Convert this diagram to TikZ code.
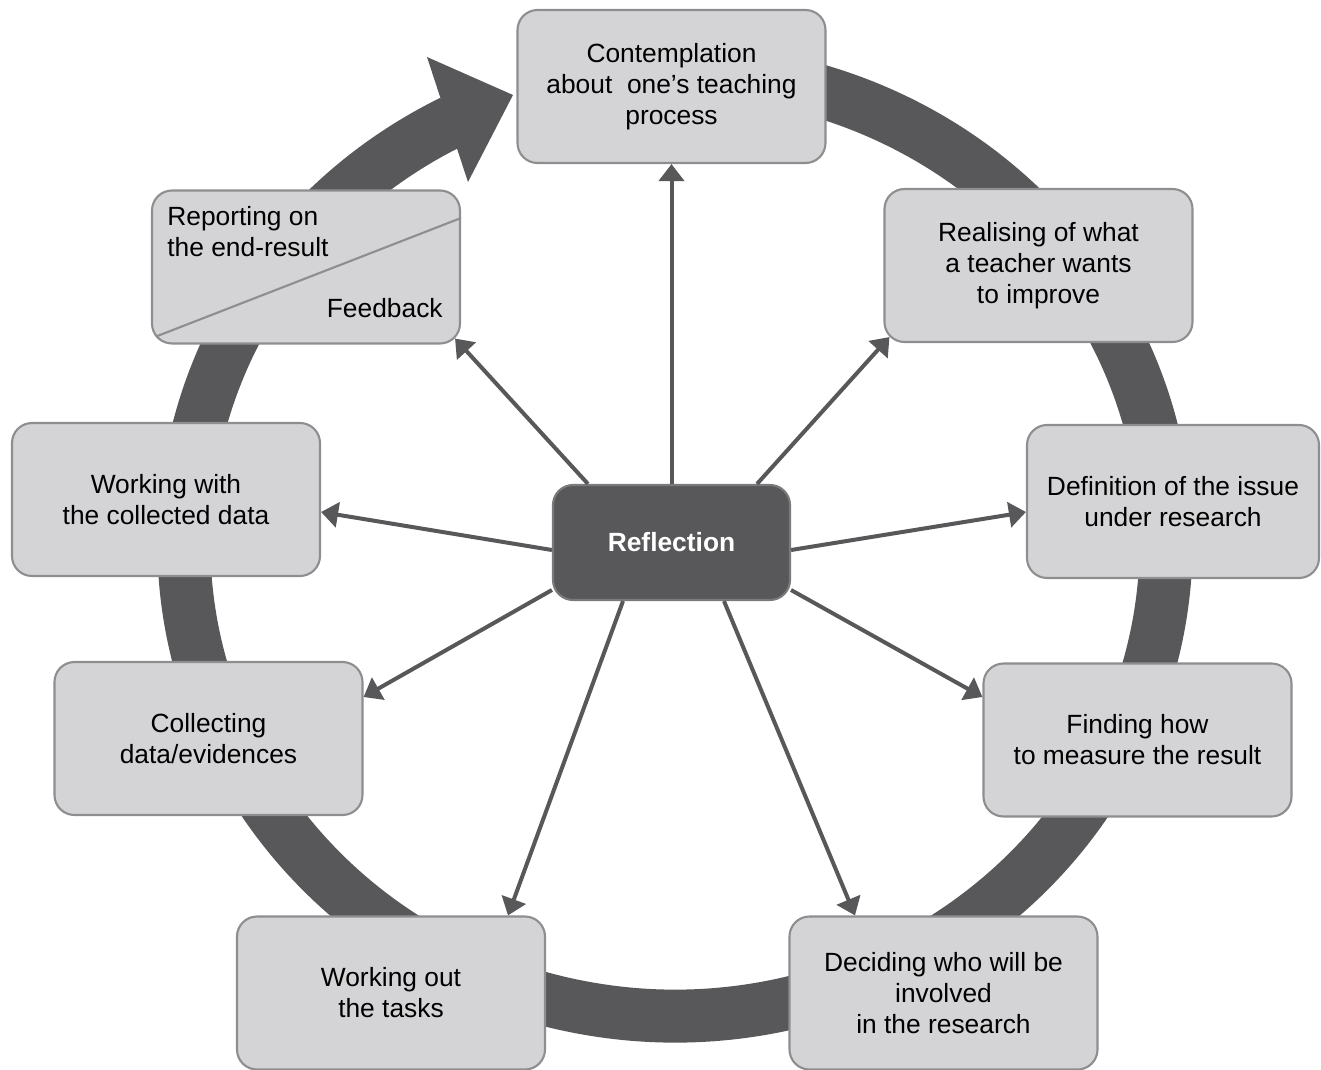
\documentclass[tikz,border=0pt]{standalone}
\usepackage{fontspec}
\setmainfont{Liberation Sans}
\usepackage{xcolor}
\usepackage{tikz}
\usetikzlibrary{arrows.meta,positioning}

\definecolor{ringgray}{HTML}{58585A}
\definecolor{boxfill}{HTML}{D4D4D6}
\definecolor{boxline}{HTML}{8E8E90}
\definecolor{hubline}{HTML}{7A7A7C}

\tikzset{
  stage/.style={draw=boxline, fill=boxfill, line width=1.2pt, rounded corners=0.4cm,
    minimum width=6.16cm, minimum height=3.06cm, align=center, inner sep=0pt,
    font=\fontsize{15}{17.6}\selectfont},
  hub/.style={draw=hubline, fill=ringgray, line width=1.2pt, rounded corners=0.4cm,
    minimum width=4.74cm, minimum height=2.30cm, text=white,
    font=\bfseries\fontsize{15}{18}\selectfont},
  link/.style={->, line width=0.08cm, draw=ringgray},
  ring/.style={line width=1.06cm, draw=ringgray}
}

\begin{document}
\begin{tikzpicture}[>={Triangle[length=0.34cm, width=0.5cm]}]
\useasboundingbox (-13.5,-10.52) rectangle (12.92,10.86);

% Cycle ring with its head
\draw[ring] (75:9.82 and 9.46) arc[start angle=75, end angle=-243, x radius=9.82, y radius=9.46];
\fill[ringgray] (-3.24,8.96) -- (-4.96,9.72) -- (-4.14,7.22) -- cycle;

% Stages
\node[stage] (cont) at (-0.07,9.13) {Contemplation\\about\ \ one’s teaching\\process};
\node[stage] (real) at (7.27,5.55) {Realising of what\\a teacher wants\\to improve};
\node[stage, minimum width=5.84cm] (defi) at (9.96,0.83) {Definition of the issue\\under research};
\node[stage] (find) at (9.25,-3.94) {Finding how\\to measure the result};
\node[stage] (deci) at (5.37,-9.0) {Deciding who will be\\involved\\in the research};
\node[stage] (wout) at (-5.68,-9.0) {Working out\\the tasks};
\node[stage] (coll) at (-9.33,-3.91) {Collecting\\data/evidences};
\node[stage] (wwit) at (-10.18,0.87) {Working with\\the collected data};
\node[stage] (repo) at (-7.38,5.52) {};

% Split box: report / feedback
\draw[boxline, line width=1.2pt] ([shift={(0.1cm,0.16cm)}]repo.south west) -- ([yshift=0.98cm]repo.east);
\node[anchor=north west, align=left, inner sep=0pt, font=\fontsize{15}{17.6}\selectfont]
  (repotxt) at (-10.16,6.74) {Reporting on\\the end-result};
\node[anchor=base east, inner sep=0pt, font=\fontsize{15}{17.6}\selectfont]
  (feed) at (-4.64,4.52) {Feedback};

% Centre
\node[hub] (refl) at (-0.07,0.01) {Reflection};

% Spokes
\draw[link] (refl.north) -- (cont.south);
\draw[link] ([xshift=1.71cm]refl.north) -- ([shift={(0.12cm,0.12cm)}]real.south west);
\draw[link] ([yshift=-0.15cm]refl.east) -- ([yshift=-0.21cm]defi.west);
\draw[link] ([yshift=-0.95cm]refl.east) -- ([yshift=0.86cm]find.west);
\draw[link] ([xshift=1.05cm]refl.south) -- ([xshift=-1.77cm]deci.north);
\draw[link] ([xshift=-0.97cm]refl.south) -- ([xshift=2.34cm]wout.north);
\draw[link] ([yshift=-0.95cm]refl.west) -- ([yshift=0.83cm]coll.east);
\draw[link] ([yshift=-0.15cm]refl.west) -- ([yshift=-0.25cm]wwit.east);
\draw[link] ([xshift=-1.67cm]refl.north) -- ([shift={(-0.12cm,0.12cm)}]repo.south east);
\end{tikzpicture}
\end{document}
